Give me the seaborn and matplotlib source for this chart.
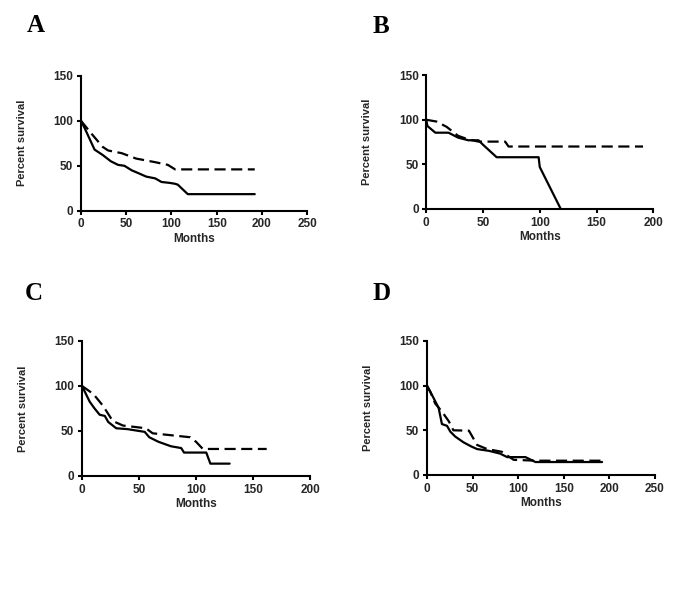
import matplotlib
matplotlib.use("Agg")
import matplotlib.pyplot as plt
import seaborn as sns

# Panel A
a_solid_t = [0, 4, 15, 24, 33, 41, 48, 56, 63, 72, 82, 89, 98, 104, 107, 118, 192]
a_solid_s = [100, 92, 68, 62, 55, 51, 50, 45, 42, 38, 36, 32, 31, 30, 29, 18.5, 18.5]
a_dash_t = [0, 13, 24, 30, 45, 61, 82, 96, 104, 192]
a_dash_s = [100, 84, 71, 67, 64, 58, 54, 51, 46, 46]

# Panel B
b_solid_t = [0, 1, 8, 19.6, 28, 37, 46, 50, 62, 99, 100, 118.5]
b_solid_s = [100, 93, 85.5, 85.5, 80, 77, 77, 72, 58, 58, 47, 0]
b_dash_t = [0, 9, 18, 28, 37, 46, 69.5, 72.5, 191]
b_dash_s = [100, 98, 92, 82, 78, 75.5, 75.5, 70, 70]

# Panel C
c_solid_t = [0, 6.7, 11, 15.5, 20, 23, 30, 40, 55, 59, 67, 78, 87, 89.5, 109, 112.6, 129.5]
c_solid_s = [100, 82.6, 75, 68, 66.7, 60, 53, 52, 49, 43, 38, 33, 31, 26, 26, 13.7, 13.7]
c_dash_t = [0, 10, 18.4, 27, 36, 56, 62, 95, 100, 106, 162]
c_dash_s = [100, 91, 78, 61, 56, 53, 47.4, 43, 38, 30, 30]

# Panel D
d_solid_t = [0, 3.7, 7.3, 12.8, 16.4, 22, 25.6, 31, 40, 49, 55, 68, 80, 88, 108, 119, 192]
d_solid_s = [100, 93, 86, 75, 57, 55, 48.5, 43, 36.6, 31.7, 29, 27, 24, 20, 20, 14.5, 14.5]
d_dash_t = [0, 3.7, 9, 16.4, 24, 29, 46, 55, 66, 82, 95, 119, 192]
d_dash_s = [100, 93, 80, 71, 60, 50, 49.6, 33.6, 29, 26, 17, 16, 16]

panel_letters = ["A", "B", "C", "D"]
x_limits = [250, 200, 200, 250]
y_ticks = [0, 50, 100, 150]

sns.set_style("white")
plt.rcParams["font.family"] = ["Liberation Sans", "DejaVu Sans"]

fig = plt.figure(figsize=(6.92, 6.11), dpi=100)

# axes boxes in figure fractions
boxes = [
    [0.117, 0.655, 0.327, 0.221],
    [0.616, 0.658, 0.328, 0.219],
    [0.1185, 0.221, 0.3295, 0.221],
    [0.617, 0.2226, 0.3295, 0.2194],
]
letter_pos = [(0.051, 0.959), (0.550, 0.956), (0.049, 0.520), (0.551, 0.520)]

curves = [
    (a_solid_t, a_solid_s, a_dash_t, a_dash_s),
    (b_solid_t, b_solid_s, b_dash_t, b_dash_s),
    (c_solid_t, c_solid_s, c_dash_t, c_dash_s),
    (d_solid_t, d_solid_s, d_dash_t, d_dash_s),
]

for i in range(4):
    ax = fig.add_axes(boxes[i])
    st, ss, dt, ds = curves[i]
    sns.lineplot(x=st, y=ss, ax=ax, color="black", linewidth=1.6,
                 sort=False, estimator=None)
    sns.lineplot(x=dt, y=ds, ax=ax, color="black", linewidth=1.6,
                 sort=False, estimator=None, linestyle=(0, (5, 2.5)))
    ax.set_xlim(0, x_limits[i])
    ax.set_ylim(0, 150)
    ax.set_xticks(list(range(0, x_limits[i] + 1, 50)))
    ax.set_yticks(y_ticks)
    for side in ["top", "right"]:
        ax.spines[side].set_visible(False)
    for side in ["left", "bottom"]:
        ax.spines[side].set_linewidth(1.5)
        ax.spines[side].set_color("black")
    ax.tick_params(direction="out", length=3, width=1.5, color="black",
                   labelsize=8.5, pad=2.5, left=True, bottom=True)
    for lab in ax.get_xticklabels() + ax.get_yticklabels():
        lab.set_fontweight("bold")
    ax.set_xlabel("Months", fontsize=8.5, fontweight="bold", labelpad=2)
    ax.set_ylabel("Percent survival", fontsize=8, fontweight="bold", labelpad=19)
    fig.text(letter_pos[i][0], letter_pos[i][1], panel_letters[i],
             fontsize=18, fontweight="bold", family="Liberation Serif",
             color="black", ha="center", va="center")

fig.savefig("out.png", dpi=100)
